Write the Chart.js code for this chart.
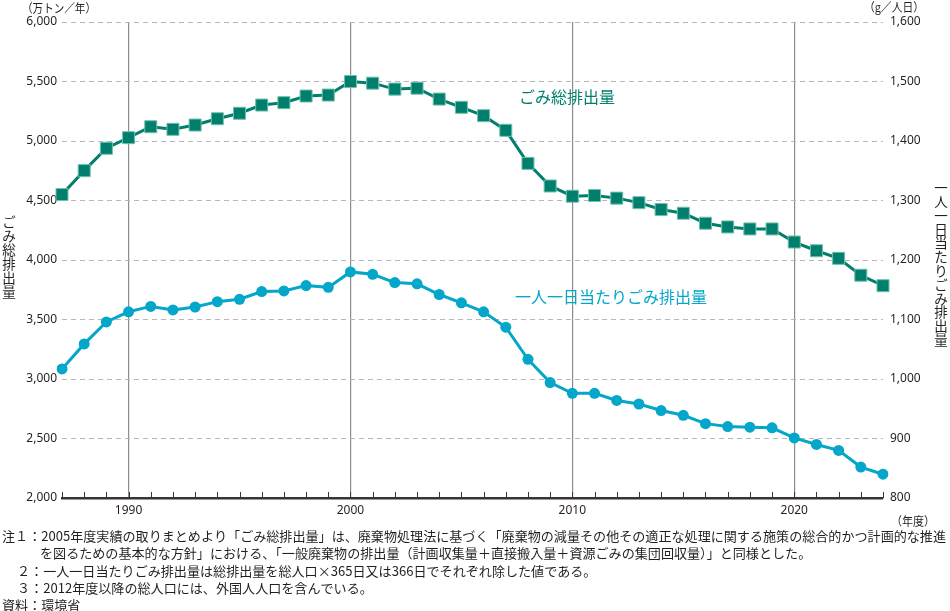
<!DOCTYPE html>
<html><head><meta charset="utf-8">
<script src="https://cdn.jsdelivr.net/npm/chart.js@4.4.1/dist/chart.umd.min.js"></script>
<style>html,body{margin:0;padding:0;background:#fff;}canvas{display:block;}</style>
</head><body>
<canvas id="c" width="950" height="611"></canvas>
<script>
const years = ['1987','1988','1989','1990','1991','1992','1993','1994','1995','1996','1997','1998','1999','2000',
  '2001','2002','2003','2004','2005','2006','2007','2008','2009','2010','2011','2012','2013','2014','2015','2016',
  '2017','2018','2019','2020','2021','2022','2023','2024'];
// ごみ総排出量（万トン／年）
const totalWaste = [4550,4751,4939,5028,5120,5098,5134,5187,5233,5302,5322,5378,5386,5500,
  5486,5436,5444,5352,5283,5213,5090,4812,4622,
  4536,4542,4520,4482,4424,4393,4309,4278,4261,4261,
  4151,4078,4014,3872,3784];
// 一人一日当たりごみ排出量（g／人日）
const perCapita = [1017,1059,1096,1113,1122,1116,1121,1130,1134,1147,1148,1157,1154,1180,
  1176,1162,1160,1142,1128,1113,1087,1033,994,
  976,976,964,958,947,939,925,920,919,918,
  901,890,880,852,840];
const leftTitle = 'ごみ総排出量';
const rightTitle = '一人一日当たりごみ排出量';
const leftUnit = '（万トン／年）';
const rightUnit = '（g／人日）';
const xUnit = '（年度）';
const notes = [
  ['注１：2005年度実績の取りまとめより「ごみ総排出量」は、廃棄物処理法に基づく「廃棄物の減量その他その適正な処理に関する施策の総合的かつ計画的な推進', 2, 536],
  ['を図るための基本的な方針」における、「一般廃棄物の排出量（計画収集量＋直接搬入量＋資源ごみの集団回収量）」と同様とした。', 40, 553],
  ['２：一人一日当たりごみ排出量は総排出量を総人口×365日又は366日でそれぞれ除した値である。', 17, 571],
  ['３：2012年度以降の総人口には、外国人人口を含んでいる。', 17, 588],
  ['資料：環境省', 2, 605]
];

const GREEN = '#00806c';
const BLUE = '#04a6c9';
const CJK = "'Noto Sans CJK JP', 'Noto Sans', sans-serif";
const TXT = '#231f20';

const fmt = v => Number(v).toLocaleString('en-US');

const textPlugin = {
  id: 'texts',
  beforeDraw(chart) {
    const ctx = chart.ctx;
    ctx.save();
    ctx.fillStyle = '#fff';
    ctx.fillRect(0, 0, chart.width, chart.height);
    ctx.restore();
  },
  afterDraw(chart) {
    const ctx = chart.ctx;
    const xs = chart.scales.x;
    const bottom = chart.chartArea.bottom;
    ctx.save();
    // small year ticks on axis
    ctx.strokeStyle = '#3a3431';
    ctx.lineWidth = 1;
    years.forEach((y, i) => {
      const px = Math.round(xs.getPixelForValue(i)) + 0.5;
      ctx.beginPath();
      ctx.moveTo(px, bottom);
      ctx.lineTo(px, bottom - 6);
      ctx.stroke();
    });
    // units
    ctx.fillStyle = TXT;
    ctx.textBaseline = 'middle';
    ctx.font = '12px ' + CJK;
    ctx.textAlign = 'left';
    ctx.fillText(leftUnit, 22, 8, 74);
    ctx.fillText(rightUnit, 864, 7, 60);
    ctx.fillText(xUnit, 891, 521, 44);
    // vertical titles
    ctx.font = '13.5px ' + CJK;
    ctx.textAlign = 'center';
    [...leftTitle].forEach((ch, i) => ctx.fillText(ch, 9, 222 + i * 14));
    [...rightTitle].forEach((ch, i) => ctx.fillText(ch, 941, 188 + i * 13.8));
    // series annotations
    ctx.font = '16px ' + CJK;
    ctx.textAlign = 'left';
    ctx.fillStyle = GREEN;
    ctx.fillText('ごみ総排出量', 519, 97, 99);
    ctx.fillStyle = BLUE;
    ctx.fillText('一人一日当たりごみ排出量', 515, 297, 198);
    // notes
    ctx.fillStyle = TXT;
    ctx.font = '13px ' + CJK;
    const w0 = ctx.measureText(notes[0][0]).width;
    const sx = 944 / w0;
    notes.forEach(([t, x, y]) => {
      ctx.save();
      ctx.translate(x, y);
      ctx.scale(sx, 1);
      ctx.fillText(t, 0, 0);
      ctx.restore();
    });
    ctx.restore();
  }
};

new Chart(document.getElementById('c'), {
  type: 'line',
  data: {
    labels: years,
    datasets: [
      {
        label: 'ごみ総排出量',
        data: totalWaste,
        yAxisID: 'y',
        borderColor: GREEN,
        backgroundColor: GREEN,
        borderWidth: 3,
        pointStyle: 'rect',
        pointRadius: 8.5,
        pointBackgroundColor: GREEN,
        pointBorderColor: '#72bfae',
        pointBorderWidth: 1,
        tension: 0
      },
      {
        label: '一人一日当たりごみ排出量',
        data: perCapita,
        yAxisID: 'y1',
        borderColor: BLUE,
        backgroundColor: BLUE,
        borderWidth: 3,
        pointStyle: 'circle',
        pointRadius: 5.5,
        pointBackgroundColor: BLUE,
        pointBorderWidth: 0,
        tension: 0
      }
    ]
  },
  options: {
    responsive: false,
    animation: false,
    devicePixelRatio: 1,
    layout: { padding: { top: 22, left: 0, right: 0, bottom: 0 } },
    plugins: { legend: { display: false }, tooltip: { enabled: false } },
    scales: {
      x: {
        type: 'category',
        offset: false,
        grid: {
          drawTicks: false,
          color: c => (c.tick && c.tick.label !== '' ? '#8c8c8c' : 'rgba(0,0,0,0)'),
          lineWidth: 1.2
        },
        border: { display: true, color: '#3a3431', width: 2.5 },
        ticks: {
          autoSkip: false,
          maxRotation: 0,
          padding: 5,
          color: TXT,
          font: { family: "'Noto Sans', sans-serif", size: 12 },
          callback: function (v, i) { return (+years[i]) % 10 === 0 ? years[i] : ''; }
        },
        afterFit: s => { s.height = 113; }
      },
      y: {
        position: 'left',
        min: 2000, max: 6000,
        grid: { drawTicks: false, color: '#b8b8b8', lineWidth: 1 },
        border: { display: false, dash: [5, 4] },
        ticks: {
          stepSize: 500, padding: 5, color: TXT,
          font: { family: "'Noto Sans', sans-serif", size: 12 },
          callback: v => fmt(v)
        },
        afterFit: s => { s.width = 62; }
      },
      y1: {
        position: 'right',
        min: 800, max: 1600,
        grid: { drawTicks: false, drawOnChartArea: false },
        border: { display: false },
        ticks: {
          stepSize: 100, padding: 7, color: TXT,
          font: { family: "'Noto Sans', sans-serif", size: 12 },
          callback: v => fmt(v)
        },
        afterFit: s => { s.width = 67; }
      }
    }
  },
  plugins: [textPlugin]
});
</script>
</body></html>
